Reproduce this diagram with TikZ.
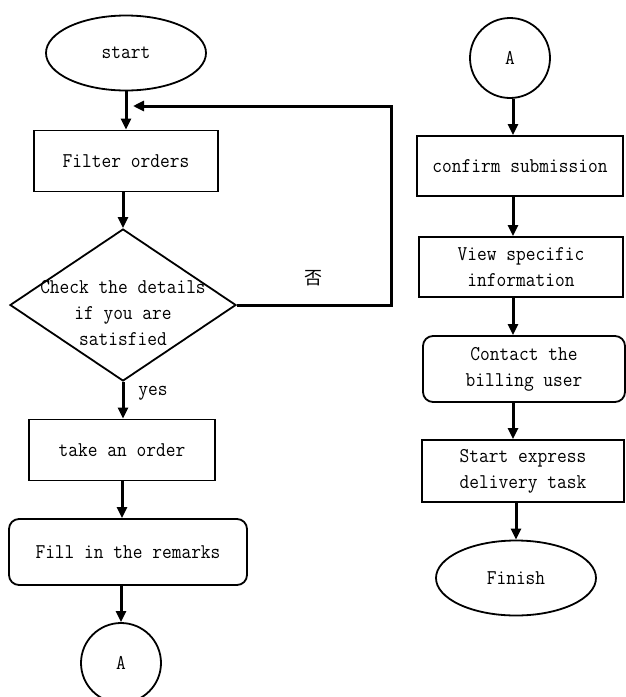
\documentclass[tikz,border=0pt]{standalone}
\usepackage{fontspec}
\setmonofont[FakeStretch=0.9]{Latin Modern Mono}
\newfontfamily\cjk{Noto Sans CJK SC}
\usetikzlibrary{arrows.meta,shapes.geometric}
\newcommand{\flowfont}{\ttfamily\fontsize{21}{26}\selectfont}
\tikzset{
  flowarr/.style  = {-{Triangle[length=11pt,width=10pt]},line width=3pt},
  procbox/.style  = {draw,line width=1.8pt,font=\flowfont,align=center,inner sep=0pt},
  termnode/.style = {procbox,ellipse},
  roundbox/.style = {procbox,rounded corners=10pt},
  joinnode/.style = {procbox,circle,minimum size=80pt},
  decide/.style   = {draw,line width=1.8pt,diamond,inner sep=0pt}
}
\begin{document}
\begin{tikzpicture}[x=1pt,y=-1pt]
  \useasboundingbox (0,0) rectangle (625,697);
  % left column
  \node[termnode,minimum width=160pt,minimum height=75pt] (start) at (126,53) {start};
  \node[procbox,minimum width=184pt,minimum height=61pt] (filter) at (126,161) {Filter orders};
  \node[decide,minimum width=226pt,minimum height=152pt] (check) at (123,305) {};
  \node[font=\flowfont,align=center,inner sep=0pt] (checktxt) at (123,313)
    {Check the details\\if you are\\satisfied};
  \node[procbox,minimum width=186pt,minimum height=61pt] (order) at (122,450) {take an order};
  \node[roundbox,minimum width=238pt,minimum height=66pt] (remarks) at (128,552) {Fill in the remarks};
  \node[joinnode] (linkout) at (121,663) {A};
  \coordinate (loopR) at (391,106);
  \coordinate (loopend) at (133,106);
  \node[font=\cjk\fontsize{18}{18}\selectfont] (nolbl) at (313,278) {否};
  \node[font=\flowfont] (yeslbl) at (153,393) {yes};
  % right column
  \node[joinnode] (linkin) at (510,58) {A};
  \node[procbox,minimum width=206pt,minimum height=60pt] (confirm) at (520,166) {confirm submission};
  \node[procbox,minimum width=204pt,minimum height=60pt] (view) at (521,267) {View specific\\information};
  \node[roundbox,minimum width=202pt,minimum height=66pt] (contact) at (524,369) {Contact the\\billing user};
  \node[procbox,minimum width=202pt,minimum height=62pt] (express) at (523,471) {Start express\\delivery task};
  \node[termnode,minimum width=160pt,minimum height=75pt] (finish) at (516,578) {Finish};
  \coordinate (rcol) at (513,0);
  % connectors
  \draw[flowarr] (start) -- (filter);
  \draw[flowarr] (filter.south -| check) -- (check.north);
  \draw[flowarr] (check.south) -- (check.south |- order.north);
  \draw[flowarr] (order.south) -- (order.south |- remarks.north);
  \draw[flowarr] (remarks.south -| linkout) -- (linkout.north);
  \draw[flowarr] (check.east) -| (loopR) -- (loopend);
  \draw[flowarr] (linkin.south -| rcol) -- (confirm.north -| rcol);
  \draw[flowarr] (confirm.south -| rcol) -- (view.north -| rcol);
  \draw[flowarr] (view.south -| rcol) -- (contact.north -| rcol);
  \draw[flowarr] (contact.south -| rcol) -- (express.north -| rcol);
  \draw[flowarr] (express.south -| finish) -- (finish.north);
\end{tikzpicture}
\end{document}
